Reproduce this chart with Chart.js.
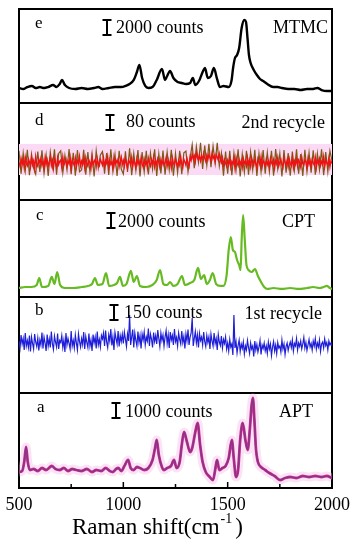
<!DOCTYPE html>
<html><head><meta charset="utf-8">
<script src="https://cdn.jsdelivr.net/npm/chart.js@4"></script>
<style>html,body{margin:0;padding:0;background:#fff}#wrap{position:relative;width:357px;height:550px}</style>
</head><body><div id="wrap"><canvas id="c" width="357" height="550"></canvas></div>
<script>
// ---- labels ----
const panelLetters = ['e','d','c','b','a'];
const sampleNames = ['MTMC','2nd recycle','CPT','1st recycle','APT'];
const barCounts = [2000, 80, 2000, 150, 1000];
const panelMax = [12530, 517, 12930, 960, 6333];
const xTickStep = 250;

// ---- e: MTMC ----
const eShift = [500,520,540,562,580,600,620,640,663,680,695,706,720,740,770,800,830,860,880,900,930,960,990,1010,1030,1050,1065,1077,1090,1105,1120,1140,1160,1185,1200,1210,1224,1240,1260,1280,1300,1320,1333,1345,1365,1380,1391,1405,1420,1434,1448,1463,1480,1505,1519,1526,1535,1545,1555,1567,1580,1588,1595,1602,1610,1625,1640,1655,1670,1690,1718,1740,1760,1790,1820,1850,1880,1910,1930,1950,1975,2000];
const eCounts = [2000,1870,2130,2270,2000,2130,2000,2130,2400,2130,2530,3070,2400,2000,1870,2000,1870,2000,2130,1870,2000,2130,2130,2270,2530,3070,4130,5070,3330,2270,2000,2130,3070,4530,3070,3600,4270,3330,2800,2670,2530,2670,3330,2400,3070,4130,4670,3330,3600,4670,3330,2130,2270,2130,3070,4670,6000,6400,7330,10000,11070,10800,8670,6400,5330,4400,3730,3200,2930,2530,2130,2130,2000,1870,1870,1730,1870,1870,2000,1730,1600,1600];

// ---- noisy spectra (d, b) ----
const fineShift = [500,505,510,515,520,525,530,535,540,545,550,555,560,565,570,575,580,585,590,595,
600,605,610,615,620,625,630,635,640,645,650,655,660,665,670,675,680,685,690,695,
700,705,710,715,720,725,730,735,740,745,750,755,760,765,770,775,780,785,790,795,
800,805,810,815,820,825,830,835,840,845,850,855,860,865,870,875,880,885,890,895,
900,905,910,915,920,925,930,935,940,945,950,955,960,965,970,975,980,985,990,995,
1000,1005,1010,1015,1020,1025,1030,1035,1040,1045,1050,1055,1060,1065,1070,1075,1080,1085,1090,1095,
1100,1105,1110,1115,1120,1125,1130,1135,1140,1145,1150,1155,1160,1165,1170,1175,1180,1185,1190,1195,
1200,1205,1210,1215,1220,1225,1230,1235,1240,1245,1250,1255,1260,1265,1270,1275,1280,1285,1290,1295,
1300,1305,1310,1315,1320,1325,1330,1335,1340,1345,1350,1355,1360,1365,1370,1375,1380,1385,1390,1395,
1400,1405,1410,1415,1420,1425,1430,1435,1440,1445,1450,1455,1460,1465,1470,1475,1480,1485,1490,1495,
1500,1505,1510,1515,1520,1525,1530,1535,1540,1545,1550,1555,1560,1565,1570,1575,1580,1585,1590,1595,
1600,1605,1610,1615,1620,1625,1630,1635,1640,1645,1650,1655,1660,1665,1670,1675,1680,1685,1690,1695,
1700,1705,1710,1715,1720,1725,1730,1735,1740,1745,1750,1755,1760,1765,1770,1775,1780,1785,1790,1795,
1800,1805,1810,1815,1820,1825,1830,1835,1840,1845,1850,1855,1860,1865,1870,1875,1880,1885,1890,1895,
1900,1905,1910,1915,1920,1925,1930,1935,1940,1945,1950,1955,1960,1965,1970,1975,1980,1985,1990,1995,
2000];
const coarseShift = [500,510,520,530,540,550,560,570,580,590,600,610,620,630,640,650,660,670,680,690,700,710,720,730,740,750,760,770,780,790,800,810,820,830,840,850,860,870,880,890,900,910,920,930,940,950,960,970,980,990,1000,1010,1020,1030,1040,1050,1060,1070,1080,1090,1100,1110,1120,1130,1140,1150,1160,1170,1180,1190,1200,1210,1220,1230,1240,1250,1260,1270,1280,1290,1300,1310,1320,1330,1340,1350,1360,1370,1380,1390,1400,1410,1420,1430,1440,1450,1460,1470,1480,1490,1500,1510,1520,1530,1540,1550,1560,1570,1580,1590,1600,1610,1620,1630,1640,1650,1660,1670,1680,1690,1700,1710,1720,1730,1740,1750,1760,1770,1780,1790,1800,1810,1820,1830,1840,1850,1860,1870,1880,1890,1900,1910,1920,1930,1940,1950,1960,1970,1980,1990,2000];
const dRed = [200,178,221,190,212,171,228,196,183,219,204,175,225,188,209,168,231,193,180,216,
198,222,184,207,172,226,191,214,179,203,230,186,211,169,220,195,177,224,189,206,
213,174,229,187,201,218,181,208,192,227,170,215,199,184,223,176,210,196,232,182,
207,189,219,173,225,194,180,212,200,171,228,187,205,216,178,221,193,182,217,201,
186,224,179,209,195,230,175,214,190,203,172,226,185,211,198,219,177,205,229,188,
210,181,222,194,170,215,203,186,227,179,212,197,174,220,191,208,183,225,196,176,
218,189,206,172,223,199,181,214,193,228,177,209,186,220,202,175,216,190,211,184,
197,226,180,213,188,205,171,224,195,182,219,200,178,210,187,229,192,174,217,203,
185,221,196,179,230,212,245,220,236,205,251,227,214,240,208,233,218,249,223,206,
238,215,243,226,210,248,221,235,204,242,229,212,246,218,200,225,185,214,196,180,
211,189,223,176,205,192,218,170,227,199,183,214,188,209,174,221,195,207,181,226,
190,213,178,225,201,184,216,193,171,220,204,187,229,176,211,197,182,218,189,207,
175,222,198,186,214,170,209,193,227,181,203,216,188,173,224,199,185,212,178,220,
196,183,225,172,208,191,219,180,213,201,176,228,194,187,215,205,174,221,190,210,
181,217,199,186,226,173,211,195,220,184,205,190,230,178,213,198,188,223,177,209,
195];
const dOlive = [262,140,250,155,268,132,245,170,138,258,
150,265,142,240,128,255,175,270,135,248,
262,145,238,160,272,138,252,130,266,150,
160,268,135,255,148,246,125,262,170,240,
258,140,250,133,270,152,244,128,262,165,
138,260,150,275,132,248,158,266,125,255,
150,262,136,250,165,270,128,246,142,264,
135,255,160,268,130,248,145,262,138,251,
260,150,225,295,170,285,200,305,165,290,
185,300,175,288,195,305,180,250,130,258,
140,262,132,250,158,270,126,245,148,262,
135,257,160,268,128,249,150,266,140,253,
150,262,130,271,165,248,125,266,145,250,
130,258,158,270,140,245,128,268,150,252,
145,265,135,248,160,270,132,256,150,262,210];
const dBandShift = [500, 2000];
const dBandUpper = [299, 299];
const dBandLower = 133;

// ---- c: CPT ----
const cShift = [500,530,560,585,597,610,640,657,670,683,697,720,760,800,830,850,864,878,900,917,932,955,970,984,998,1015,1036,1050,1065,1080,1110,1140,1160,1176,1192,1210,1224,1240,1260,1281,1295,1320,1340,1358,1372,1387,1400,1415,1428,1445,1465,1480,1495,1505,1515,1525,1535,1545,1555,1562,1567,1574,1582,1590,1600,1615,1631,1645,1660,1675,1690,1720,1760,1800,1840,1880,1910,1940,1960,1975,1990,2000];
const cCounts = [1200,1330,1330,1600,2530,1330,1470,2670,1730,3330,1600,1200,1200,1330,1470,1730,2530,1600,1730,3200,1470,1600,1870,2670,1470,1730,3470,2000,2800,1470,1330,1600,2270,3600,1730,1600,2000,1470,1730,2800,1600,1870,2270,3870,2400,2930,1730,2270,3200,1730,1470,1470,2930,6270,8000,6270,6000,4930,4270,3600,7600,10930,7600,4270,3600,3330,3730,2800,2000,1330,1070,1200,1070,1200,1070,1200,1330,1200,1330,1470,1200,1070];

// ---- b: 1st recycle ----
const bBlue = [520,450,580,490,545,430,600,470,525,455,575,415,560,495,440,590,510,465,550,425,
530,480,605,445,560,500,420,585,470,540,455,615,490,435,570,510,460,595,440,525,
505,575,455,530,410,600,480,545,495,440,620,470,525,450,580,500,430,590,515,460,
545,485,610,440,565,505,455,595,470,530,420,585,500,560,445,615,480,535,460,575,
540,600,470,625,510,455,580,520,640,475,560,430,605,545,490,620,465,575,515,590,
495,610,540,465,590,520,780,480,560,635,455,600,525,470,615,505,575,445,590,530,
610,480,560,520,645,470,590,540,455,605,515,575,490,630,545,465,600,525,580,470,
560,625,495,580,450,610,530,575,480,640,515,555,470,600,535,490,620,505,565,445,
590,520,635,480,560,600,750,470,545,615,500,580,455,595,525,560,480,610,515,465,
575,505,560,440,590,520,470,600,495,545,430,585,510,475,570,450,535,495,560,440,
500,420,535,460,490,380,780,450,515,400,475,530,415,490,445,510,390,470,430,525,
455,395,500,440,470,365,520,430,485,410,460,525,385,480,445,500,420,470,395,510,
440,490,375,460,515,420,480,395,505,450,470,410,530,440,490,385,465,500,425,475,
510,455,530,420,495,470,545,430,500,465,520,440,490,555,450,505,425,480,535,460,
495,430,520,470,545,440,500,460,530,415,490,510,450,540,475,505,430,520,480,500,
470];

// ---- a: APT ----
const aShift = [500,515,525,534,542,552,570,590,610,630,657,675,695,715,735,755,775,800,825,850,870,895,915,935,950,965,976,990,1005,1023,1035,1050,1065,1080,1100,1120,1140,1152,1160,1170,1185,1195,1210,1228,1243,1255,1270,1280,1291,1305,1320,1330,1345,1356,1368,1380,1395,1410,1430,1440,1449,1460,1475,1490,1505,1520,1530,1540,1550,1560,1572,1585,1596,1606,1615,1621,1628,1636,1645,1660,1680,1700,1725,1751,1775,1800,1830,1860,1890,1920,1950,1975,2000];
const aCounts = [1067,1133,1733,2733,1733,1200,1267,1133,1333,1200,1467,1267,1200,1333,1133,1267,1200,1133,1267,1067,1200,1133,1333,1133,1067,1267,1333,1133,1467,1867,1333,1200,1400,1333,1200,1333,1867,2667,3200,2200,1400,1200,1333,1467,1867,1333,1733,2867,3733,3067,2400,2667,3733,4333,2867,1733,1067,800,533,1200,1867,1200,1333,1467,2000,3200,1867,733,1200,3200,4333,3200,2533,3867,5533,6000,4533,2533,1733,1400,1200,1000,800,533,667,733,667,800,733,800,733,800,667];

const pts = (xs, ys) => xs.map((x, i) => ({x, y: ys[i]}));
const panelIds = ['ye','yd','yc','yb','ya'];
const panelWeights = [94, 97, 97, 96, 95];

const serif = '"Liberation Serif", "Times New Roman", serif';
// text placement per panel (pixel offsets from panel top)
const textLayout = [
  {letterX:35, letterY:19, barX:107, barY:11, textX:116, textY:24, nameX:328, nameY:24},
  {letterX:35, letterY:22, barX:110, barY:12, textX:126, textY:24, nameX:325, nameY:25},
  {letterX:36, letterY:20, barX:111, barY:13, textX:118, textY:27, nameX:315, nameY:27},
  {letterX:35, letterY:18, barX:114, barY:8,  textX:124, textY:21, nameX:322, nameY:22},
  {letterX:37, letterY:19, barX:116, barY:10, textX:125, textY:24, nameX:313, nameY:24}
];

const annot = {
  id: 'annot',
  afterDraw(chart) {
    const ctx = chart.ctx, ca = chart.chartArea;
    ctx.save();
    ctx.fillStyle = '#000'; ctx.strokeStyle = '#000';
    ctx.textBaseline = 'alphabetic';
    panelIds.forEach((id, i) => {
      const s = chart.scales[id], top = s.top, L = textLayout[i];
      ctx.textAlign = 'left';
      ctx.font = '17px ' + serif;
      ctx.fillText(panelLetters[i], L.letterX, top + L.letterY);
      const h = s.getPixelForValue(0) - s.getPixelForValue(barCounts[i]);
      const bx = L.barX, by = top + L.barY;
      ctx.lineWidth = 2;
      ctx.beginPath();
      ctx.moveTo(bx, by); ctx.lineTo(bx, by + h);
      ctx.moveTo(bx - 4.5, by); ctx.lineTo(bx + 4.5, by);
      ctx.moveTo(bx - 4.5, by + h); ctx.lineTo(bx + 4.5, by + h);
      ctx.stroke();
      ctx.font = '18px ' + serif;
      ctx.fillText(barCounts[i] + ' counts', L.textX, top + L.textY);
      ctx.textAlign = 'right';
      ctx.fillText(sampleNames[i], L.nameX, top + L.nameY);
    });
    // inward tick marks on bottom axis
    const xs = chart.scales.x;
    ctx.lineWidth = 1.5;
    xs.ticks.forEach(t => {
      const px = xs.getPixelForValue(t.value);
      const len = t.value % 500 === 0 ? 6 : 4;
      ctx.beginPath(); ctx.moveTo(px, ca.bottom); ctx.lineTo(px, ca.bottom - len); ctx.stroke();
    });
    // axis title with superscript
    ctx.textAlign = 'left';
    const tx = 72, ty = 534;
    ctx.font = '23px ' + serif;
    const main = 'Raman shift(cm';
    ctx.fillText(main, tx, ty);
    const w1 = ctx.measureText(main).width;
    ctx.font = '14px ' + serif;
    ctx.fillText('-1', tx + w1 + 1, ty - 11);
    const w2 = ctx.measureText('-1').width;
    ctx.font = '23px ' + serif;
    ctx.fillText(')', tx + w1 + w2 + 4, ty);
    ctx.restore();
  }
};

function panelScale(i) {
  return {
    type: 'linear', position: 'left', stack: 'panels', stackWeight: panelWeights[i], weight: 10 - i,
    min: 0, max: panelMax[i], display: true,
    ticks: {display: false},
    grid: {display: true, drawTicks: false, drawOnChartArea: true, color: '#000', lineWidth: 2},
    border: {display: true, color: '#000', width: 2},
    afterBuildTicks: s => { s.ticks = [{value: s.min}, {value: s.max}]; },
    afterFit: s => { s.width = 0; }
  };
}

const line = (data, yAxisID, color, width, order, extra) => Object.assign({
  data, yAxisID, borderColor: color, borderWidth: width, pointRadius: 0, fill: false, order, tension: 0
}, extra || {});

const scales = {
  x: {
    type: 'linear', position: 'bottom', min: 500, max: 2000,
    ticks: {stepSize: xTickStep, autoSkip: false, maxRotation: 0, padding: -2, color: '#000',
      font: {family: serif, size: 18}, callback: v => (v % 500 === 0 ? String(v) : '')},
    grid: {display: false},
    border: {display: true, color: '#000', width: 2},
    afterFit: s => { s.height = 62; }
  },
  yr: {
    type: 'linear', position: 'right', min: 0, max: 1, display: true,
    ticks: {display: false}, grid: {display: false},
    border: {display: true, color: '#000', width: 2},
    afterFit: s => { s.width = 0; }
  }
};
panelIds.forEach((id, i) => { scales[id] = panelScale(i); });

new Chart(document.getElementById('c'), {
  type: 'line',
  data: {
    datasets: [
      line(pts(eShift, eCounts), 'ye', '#000000', 2.4, 1, {cubicInterpolationMode: 'monotone'}),
      line(pts(dBandShift, dBandUpper), 'yd', 'rgba(0,0,0,0)', 0, 20, {fill: {value: dBandLower}, backgroundColor: '#fbdaf5'}),
      line(pts(coarseShift, dOlive), 'yd', '#7a5a14', 1.2, 6),
      line(pts(fineShift, dRed), 'yd', '#ee1212', 1.4, 5),
      line(pts(cShift, cCounts), 'yc', '#66bb22', 2.2, 1, {cubicInterpolationMode: 'monotone'}),
      line(pts(fineShift, bBlue), 'yb', '#1e1ed8', 1.2, 1),
      line(pts(aShift, aCounts), 'ya', 'rgba(246,185,232,0.4)', 9, 20, {cubicInterpolationMode: 'monotone'}),
      line(pts(aShift, aCounts), 'ya', '#dd2a8e', 2.8, 3, {cubicInterpolationMode: 'monotone'}),
      line(pts(aShift, aCounts), 'ya', '#823788', 1.6, 2, {cubicInterpolationMode: 'monotone'})
    ]
  },
  options: {
    responsive: false, animation: false, devicePixelRatio: 1,
    layout: {padding: {left: 19, right: 25, top: 9, bottom: 0}},
    plugins: {legend: {display: false}, tooltip: {enabled: false}, title: {display: false}},
    scales
  },
  plugins: [annot]
});
</script>
</body></html>
